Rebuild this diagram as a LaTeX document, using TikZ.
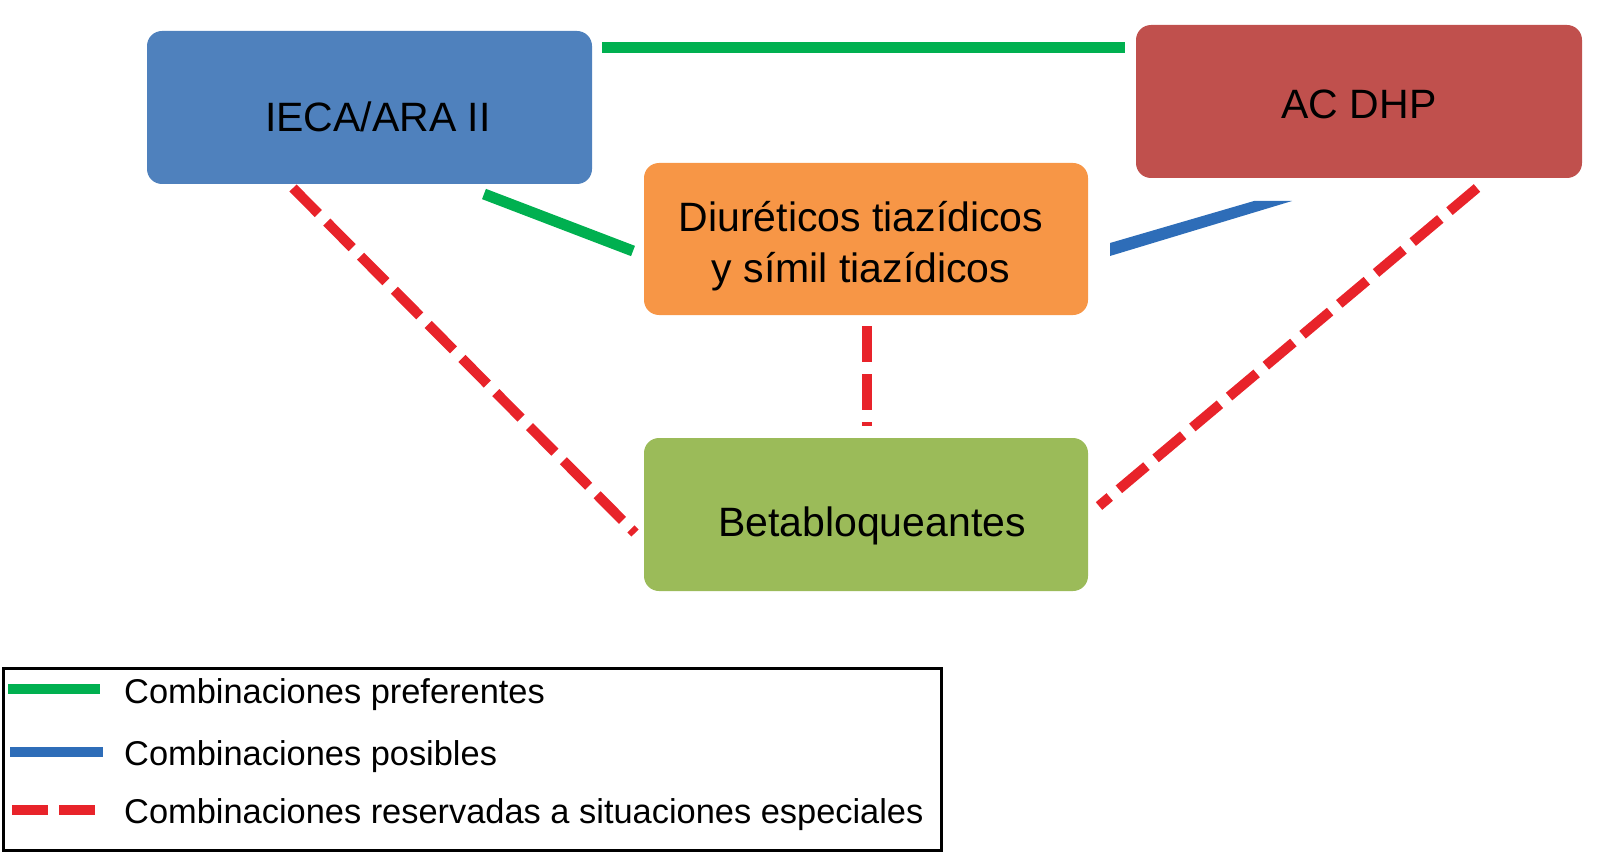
\documentclass[tikz,border=0pt]{standalone}
\usepackage{fontspec}
\setmainfont{Liberation Sans}
\definecolor{bxblue}{HTML}{4F81BD}
\definecolor{bxred}{HTML}{C0504D}
\definecolor{bxorange}{HTML}{F79646}
\definecolor{bxgreen}{HTML}{9BBB59}
\definecolor{lngreen}{HTML}{00B050}
\definecolor{lnblue}{HTML}{2E6DB8}
\definecolor{lnred}{HTML}{E8232A}
\tikzset{
  box/.style={rounded corners=15pt, minimum width=445pt, minimum height=152pt, inner sep=0pt, align=center, font=\fontsize{41}{51}\selectfont},
  pref/.style={draw=lngreen, line width=11pt},
  posib/.style={fill=lnblue, draw=none},
  resv/.style={draw=lnred, line width=10pt, dash pattern=on 36pt off 12pt},
  legtext/.style={anchor=west, font=\fontsize{34.4}{40}\selectfont, inner sep=0pt}
}
\begin{document}
\begin{tikzpicture}[x=1pt,y=-1pt]
\useasboundingbox (0,0) rectangle (1614,853);
% boxes
\node[box, fill=bxblue, minimum width=445pt, minimum height=153pt] (ieca) at (369.5,107.5) {};
\node at (378,117) [font=\fontsize{41}{51}\selectfont] (iecat) {IECA/ARA II};
\node[box, fill=bxred, minimum width=446pt, minimum height=153pt] (ac) at (1359,101.5) {};
\node at (1359,104) [font=\fontsize{41}{51}\selectfont] (act) {AC DHP};
\node[box, fill=bxorange, minimum width=444pt, minimum height=152pt] (diu) at (866,239) {};
\node at (861,246) [align=center, font=\fontsize{41}{51}\selectfont] (diut) {Diuréticos tiazídicos\\y símil tiazídicos};
\node[box, fill=bxgreen, minimum width=444pt, minimum height=153pt] (beta) at (866,514.5) {};
\node at (872,526) [font=\fontsize{41}{51}\selectfont] (betat) {Betabloqueantes};
% connector end points
\coordinate (g1a) at (602,48);
\coordinate (g1b) at (1125,48);
\coordinate (g2a) at (484,194);
\coordinate (g2b) at (633,251);
\coordinate (r1a) at (293,188);
\coordinate (r1b) at (635,533);
\coordinate (r2a) at (1477,188);
\coordinate (r2b) at (1099,506);
\coordinate (r3a) at (867,326);
\coordinate (r3b) at (867,426);
% connectors
\draw[pref] (g1a) -- (g1b);
\draw[pref] (g2a) -- (g2b);
\fill[posib] (1110,243) -- (1110,256) -- (1292,201) -- (1254,201) -- cycle;
\draw[resv] (r1a) -- (r1b);
\draw[resv] (r2a) -- (r2b);
\draw[resv] (r3a) -- (r3b);
% legend
\node[draw=black, line width=3pt, minimum width=938pt, minimum height=182pt, inner sep=0pt] (leg) at (472,759) {};
\coordinate (l1a) at (8,689); \coordinate (l1b) at (100,689);
\coordinate (l2a) at (10,752); \coordinate (l2b) at (103,752);
\coordinate (l3a) at (12,810); \coordinate (l3b) at (96,810);
\draw[pref, line width=10pt] (l1a) -- (l1b);
\draw[draw=lnblue, line width=10pt] (l2a) -- (l2b);
\draw[resv, dash pattern=on 36pt off 11pt] (l3a) -- (l3b);
\node[legtext] (t1) at (124,695) {Combinaciones preferentes};
\node[legtext] (t2) at (124,757) {Combinaciones posibles};
\node[legtext] (t3) at (124,815) {Combinaciones reservadas a situaciones especiales};
\end{tikzpicture}
\end{document}
